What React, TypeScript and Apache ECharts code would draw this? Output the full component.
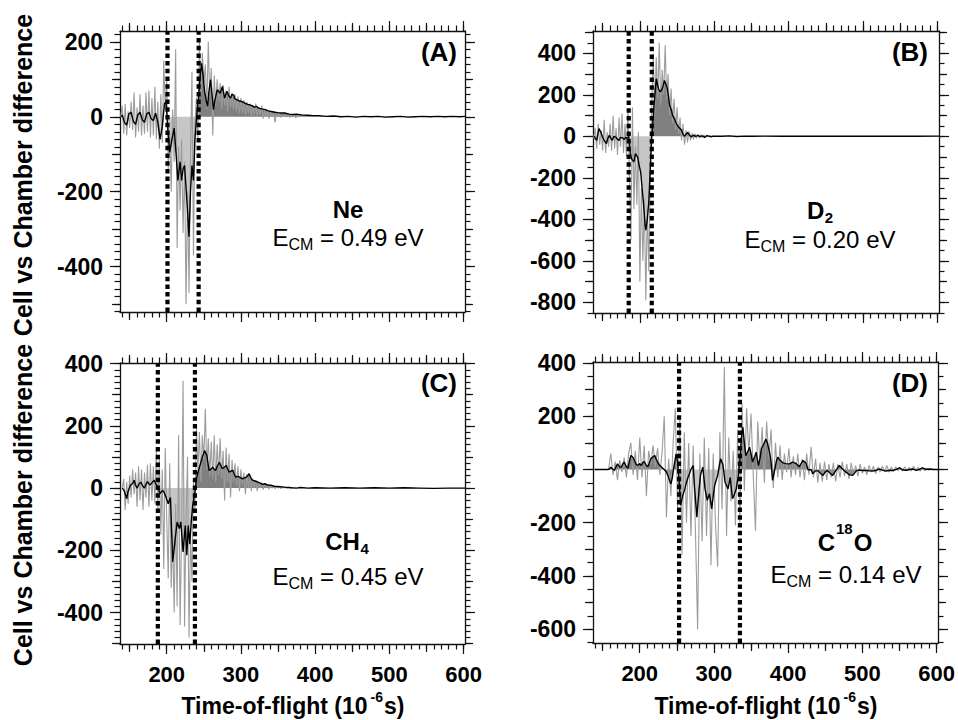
import React, { useEffect, useRef } from 'react';
import * as echarts from 'echarts';

const FONT = '"Liberation Sans", Arial, Helvetica, sans-serif';

// ---------- axes ----------
const X_RANGE = [137, 602];
const X_MAJOR = [200, 300, 400, 500, 600];
const X_MID = [150, 250, 350, 450, 550];
const X_MINOR_STEP = 10;

const Y_RANGE_A = [-521, 229];
const Y_RANGE_B = [-851, 507];
const Y_RANGE_C = [-501, 402];
const Y_RANGE_D = [-652, 404];
const Y_MAJOR_A = [-400, -200, 0, 200];
const Y_MAJOR_B = [-800, -600, -400, -200, 0, 200, 400];
const Y_MAJOR_C = [-400, -200, 0, 200, 400];
const Y_MAJOR_D = [-600, -400, -200, 0, 200, 400];
const Y_MINOR_STEP_A = 20;
const Y_MINOR_STEP_B = 50;
const Y_MINOR_STEP_C = 20;
const Y_MINOR_STEP_D = 50;

// ---------- dotted markers ----------
const DOTTED_A = [201, 243];
const DOTTED_B = [185, 216];
const DOTTED_C = [188, 238];
const DOTTED_D = [253, 335];

// ---------- smoothed traces ----------
const SMOOTH_A: number[][] = [
  [139, 0], [140, 5], [143, -15], [146, -22], [149, 8], [152, 12], [155, -12], [158, -20], [161, 5], [164, 12],
  [167, -8], [170, -15], [173, 8], [176, 12], [179, -5], [182, -10], [185, 10], [188, -15], [191, -60], [194, -25],
  [197, 35], [199, 40], [201, -20], [204, -95], [207, -60], [210, -30], [213, -110], [215, -170], [218, -120], [220, -170],
  [222, -140], [224, -130], [226, -190], [228, -250], [230, -320], [232, -200], [234, -130], [236, -170], [238, -60], [240, -5],
  [243, 55], [245, 110], [247, 143], [249, 110], [251, 68], [253, 45], [255, 28], [257, 70], [259, 99], [261, 60],
  [263, 19], [265, 45], [268, 72], [270, 68], [272, 63], [275, 81], [278, 50], [281, 68], [284, 55], [286, 50],
  [288, 60], [290, 58], [292, 48], [295, 45], [298, 42], [301, 41], [304, 38], [306, 36], [309, 33], [312, 32],
  [315, 30], [318, 26], [321, 28], [324, 23], [328, 21], [333, 19], [337, 16], [341, 14], [346, 12], [350, 11],
  [355, 10], [360, 10], [365, 7], [370, 6], [375, 7], [382, 5], [390, 4], [397, 3], [405, 3], [415, 1],
  [425, 2], [435, 0], [445, 1], [455, -1], [465, 1], [475, 0], [485, 1], [495, -1], [505, 0], [515, 1],
  [525, -1], [535, 0], [545, 1], [555, 0], [565, 1], [575, 0], [585, 1], [595, 0], [602, 1],
];
const SMOOTH_B: number[][] = [
  [139, 0], [140, -11], [142, -19], [145, 37], [148, 15], [150, -3], [152, -20], [155, -35], [157, -10], [159, 5],
  [161, -10], [163, -19], [165, 0], [168, -5], [170, -15], [172, -20], [174, -5], [177, -8], [179, -15], [181, -5],
  [183, -10], [185, 0], [187, -80], [189, -110], [192, -123], [194, -83], [197, -100], [199, -140], [201, -171], [203, -250],
  [205, -330], [207, -428], [208, -452], [210, -400], [212, -316], [214, -155], [216, 0], [219, 149], [222, 277], [225, 229],
  [227, 215], [229, 221], [231, 240], [233, 269], [235, 250], [237, 229], [240, 149], [242, 130], [244, 101], [247, 80],
  [249, 61], [252, 45], [256, 29], [258, 10], [260, 0], [262, 10], [264, 18], [267, 5], [269, -3], [272, 5],
  [275, 0], [278, 4], [281, -2], [284, 2], [287, -5], [290, 3], [295, -2], [300, 1], [310, 0], [320, 2],
  [330, -1], [340, 1], [350, 0], [370, 1], [390, 0], [420, 1], [450, 0], [480, 1], [510, 0], [540, 1],
  [570, 0], [602, 1],
];
const SMOOTH_C: number[][] = [
  [140, 0], [143, -10], [146, -34], [148, -10], [151, 9], [154, 15], [156, 25], [158, 10], [160, 0], [163, 15],
  [165, 19], [168, 5], [170, 0], [172, 12], [174, 21], [177, 10], [179, 14], [181, 20], [183, 25], [185, 15],
  [188, 3], [191, -18], [194, -8], [196, -12], [199, -29], [202, -50], [205, -30], [208, -237], [211, -173], [214, -109],
  [217, -130], [219, -109], [222, -205], [225, -120], [227, -216], [229, -120], [231, -180], [233, -110], [235, -56], [238, -13],
  [240, 30], [242, 51], [246, 83], [248, 100], [251, 121], [254, 105], [257, 57], [260, 62], [262, 67], [264, 60],
  [266, 57], [268, 70], [271, 83], [273, 72], [275, 62], [278, 68], [280, 73], [282, 62], [284, 51], [287, 55],
  [289, 57], [291, 45], [293, 35], [296, 38], [298, 35], [302, 30], [305, 33], [307, 35], [309, 40], [311, 46],
  [314, 30], [316, 25], [320, 22], [323, 19], [326, 16], [329, 12], [332, 14], [336, 10], [341, 9], [345, 6],
  [350, 5], [355, 4], [359, 3], [364, 2], [368, 1], [375, 0], [380, 2], [390, 0], [400, 1], [420, 0],
  [440, 1], [460, 0], [480, 1], [500, 0], [520, 1], [540, 0], [560, -1], [580, 0], [602, 0],
];
const SMOOTH_D: number[][] = [
  [139, 0], [157, 0], [159, 2], [161, 9], [164, 0], [166, -3], [168, 10], [170, 21], [173, 10], [175, 8],
  [177, 20], [179, 28], [182, 10], [184, 5], [186, 30], [188, 53], [191, 45], [193, 34], [195, 20], [197, 15],
  [200, 22], [202, 15], [204, 25], [206, 30], [209, 15], [211, 10], [213, 25], [215, 40], [218, 48], [220, 53],
  [222, 40], [224, 28], [227, 15], [229, 10], [231, 5], [233, 0], [236, -10], [238, -23], [240, -40], [242, -54],
  [244, -30], [246, 10], [249, 59], [251, 30], [253, -40], [255, -135], [258, -98], [261, -70], [263, -48], [265, -30],
  [267, -16], [269, 0], [272, 15], [274, -73], [277, -179], [280, -73], [282, -20], [285, 9], [288, -73], [291, -116],
  [294, -91], [297, -148], [299, -100], [301, -60], [303, -40], [305, -23], [307, 10], [309, 40], [312, 20], [315, -48],
  [317, -60], [319, -73], [322, -30], [325, -110], [328, -90], [330, -73], [333, -23], [335, 40], [337, 120], [339, 159],
  [341, 100], [343, 52], [346, 70], [348, 84], [350, 60], [352, 28], [355, 50], [357, 65], [360, 15], [362, 40],
  [364, 78], [367, 95], [370, 115], [372, 100], [375, 65], [377, 30], [379, -41], [382, 0], [384, 30], [386, 46],
  [389, 35], [393, 25], [397, 22], [402, 21], [406, 28], [411, 22], [415, 10], [420, 34], [424, 25], [427, -2],
  [431, 0], [433, -16], [437, -5], [440, -5], [444, -15], [447, -22], [450, -10], [453, -4], [457, -15], [460, -22],
  [464, -5], [469, 15], [474, 0], [478, -10], [483, -20], [487, -22], [492, -5], [496, -2], [501, -4], [505, -4],
  [510, -5], [514, -6], [519, -3], [523, 2], [528, -3], [532, -6], [537, -3], [541, -4], [546, 1], [550, 6],
  [555, -2], [559, -3], [564, 0], [568, 2], [573, -3], [577, 1], [581, 6], [586, 0], [590, 2], [595, 0], [602, 0],
];

// ---------- raw (unsmoothed) traces ----------
const RAW_A_START = 138;
const RAW_A_STEP = 2;
const RAW_A = [
  0, 30, -45, 35, -50, 15, -30, 40, -35, 65, -55, 25, -40, 60, -50, 30, -45, 65, -40, 70,
  -55, 50, -50, 80, -60, 40, -85, 60, -70, 150, 20, 100,
  -140, -40, -200, 20, -120, 180, -350, -80, -250, -60, -310, -120, -500, -200, -470, -100, 120, -370, -20, 50, -60,
  200, 60, 170, 90, 140, 20, 200, 50, 130, -50, 110, 30, 100, 40, 90, 20, 85, 30, 70, 15,
  80, 25, 65, 20, 60, 15, 55, 10, 50,
  10, 45, 5, 40, 10, 35, 0, 30, 5, 35, 0, 25, 5, 30, -5, 20, 0, 15, -5, 15,
  0, 10, -15, 10, 0, 8, -2, 6, 0, 5,
  0, 4, -2, 5, 0, 4, -3, 3, 0, 3,
];
const RAW_B_START = 138;
const RAW_B_STEP = 2;
const RAW_B = [
  -10, 40, -60, 60, -40, 30, -70, 80, -80, 20, -50, 60, -70, 100, -60, 40, -90, 90, -50, 110,
  -80, 60, -100, 130,
  -200, -500, 140, -350, -50, -330, 20, -700, -250, -600, -300, -790, -350, -650, -150,
  150, 400, 120, 380, 180, 450, 150, 320, 200, 440, 180, 300, 100, 230, 60, 180, 30, 140, 10, 90,
  -20, 60, -40, 30, -30, 25, -20, 15, -15, 12, -10, 10, -8, 8, -5, 6, -4, 5, -3, 4, -2, 3, 0,
];
const RAW_C_START = 140;
const RAW_C_STEP = 2;
const RAW_C = [
  0, 30, -70, 20, -50, 40, -30, 60, -20, 50, -60, 70, -40, 60, -70, 50, -30, 75, -60, 80,
  -40, 70, -50, 125, -70,
  100, -150, 60, -260, 130, -100, -290, 80, -320, -150, -400, -50, -380, 170, -440, -150, 345, -445, -100, 100,
  -480, -150, -300, 20,
  -80, 200, 60, 180, 20, 170, 90, 255, 60, 160, 40, 150, 30, 170, 20, 140, 40, 160, 30, 120,
  -40, 130, 20, 110, -30, 90, 20, 80, 10, 70, -10, 60, 10, 50, -20, 45, 0, 40, -10, 30,
  0, 25, -10, 20, 0, 18, -5, 15, 0, 12, -4, 10, 0, 8, -2, 6, 0, 5, -2, 4, 0, 3, -1, 3, 0, 2, 0,
];
const RAW_D_START = 158;
const RAW_D_STEP = 3;
const RAW_D = [
  0, 60, -20, 30, -40, 35, -10, 45, -30, 60, 100, -20, 70, -40, 120, -30, 90, -100, 70, 20,
  90, 10, 80, -20, 60, 200, -180, 40, -100, 100, 230, -150, 200,
  -320, 140, -200, 100, -250, 90, -220, -600, 60, -270, 120, -250, 80, -360, 60, -200, -365, 140, -150, 385,
  -250, 120, -120, 70, -210, 150,
  -200, 250, -80, 230, 60, 210, -20, -230, 180, 20, 160, -50, 180, 40, 150, -70, 100, -30, 90, -40,
  60, -10, 80, -30, 50, -20, 60, -30, 40, -40, 60, -20, 85, -30, 40, -50, 25, -45, 30, -40,
  20, -30, 25, -45, 20, -30, 30, -25, 20, -35, 25, -20, 15, -25, 20, -15, 10, -20, 15, -10,
  12, -15, 10, -10, 12, -8, 15, -10, 10, -8, 10, -5, 8, -6, 10, -5, 8, -6, 12, -4,
  8, -6, 6, -4, 5, -3, 4, 0,
];

const PANELS = [
  { grid: { left: 120, top: 31, width: 345, height: 281 }, yRange: Y_RANGE_A, yMajor: Y_MAJOR_A, yMinorStep: Y_MINOR_STEP_A,
    dotted: DOTTED_A, smooth: SMOOTH_A, raw: RAW_A, rawStart: RAW_A_START, rawStep: RAW_A_STEP, preFill: false, xLabels: false },
  { grid: { left: 593, top: 31, width: 346, height: 282 }, yRange: Y_RANGE_B, yMajor: Y_MAJOR_B, yMinorStep: Y_MINOR_STEP_B,
    dotted: DOTTED_B, smooth: SMOOTH_B, raw: RAW_B, rawStart: RAW_B_START, rawStep: RAW_B_STEP, preFill: false, xLabels: false },
  { grid: { left: 120, top: 363, width: 345, height: 281 }, yRange: Y_RANGE_C, yMajor: Y_MAJOR_C, yMinorStep: Y_MINOR_STEP_C,
    dotted: DOTTED_C, smooth: SMOOTH_C, raw: RAW_C, rawStart: RAW_C_START, rawStep: RAW_C_STEP, preFill: false, xLabels: true },
  { grid: { left: 593, top: 362, width: 345, height: 281 }, yRange: Y_RANGE_D, yMajor: Y_MAJOR_D, yMinorStep: Y_MINOR_STEP_D,
    dotted: DOTTED_D, smooth: SMOOTH_D, raw: RAW_D, rawStart: RAW_D_START, rawStep: RAW_D_STEP, preFill: true, xLabels: true },
];

const LIGHT_FILL = '#c6c6c6';
const DARK_FILL = '#808080';
const RAW_COLOR = '#9c9c9c';

function ticksBetween(lo: number, hi: number, step: number): number[] {
  const out: number[] = [];
  const start = Math.ceil(lo / step) * step;
  for (let v = start; v <= hi; v += step) out.push(v);
  return out;
}

function oddHundreds(lo: number, hi: number): number[] {
  return ticksBetween(lo, hi, 100).filter((v) => Math.abs(v) % 200 === 100);
}

const ctx2d = typeof document !== 'undefined' ? document.createElement('canvas').getContext('2d') : null;
function textWidth(text: string, font: string): number {
  if (!ctx2d) return text.length * 12;
  ctx2d.font = font;
  return ctx2d.measureText(text).width;
}

type Part = { t: string; f: string; dy?: number; gapL?: number; gapR?: number };
function textRun(parts: Part[], cx: number, cy: number, align: 'center' | 'right' | 'left' = 'center') {
  const widths = parts.map((p) => textWidth(p.t, p.f) + (p.gapL || 0) + (p.gapR || 0));
  const total = widths.reduce((a, b) => a + b, 0);
  let x = align === 'center' ? cx - total / 2 : align === 'right' ? cx - total : cx;
  return parts.map((p, i) => {
    const el = {
      type: 'text',
      x: x + (p.gapL || 0),
      y: cy + (p.dy || 0),
      silent: true,
      style: {
        text: p.t,
        font: p.f,
        fill: '#000',
        textAlign: 'left',
        align: 'left',
        textVerticalAlign: 'middle',
        verticalAlign: 'middle',
      },
    };
    x += widths[i];
    return el;
  });
}

const B23 = `bold 23px ${FONT}`;
const B24 = `bold 24px ${FONT}`;
const B26 = `bold 26px ${FONT}`;
const B15 = `bold 15px ${FONT}`;
const B14 = `bold 14px ${FONT}`;
const R24 = `24px ${FONT}`;
const R16 = `16px ${FONT}`;

export default function App() {
  const ref = useRef<HTMLDivElement>(null);

  useEffect(() => {
    if (!ref.current) return;
    const chart = echarts.init(ref.current, undefined, { renderer: 'svg' });

    const grids: any[] = [];
    const xAxes: any[] = [];
    const yAxes: any[] = [];
    const series: any[] = [];

    const tickAxisBase = {
      type: 'value',
      splitLine: { show: false },
      axisLine: { show: false },
      axisLabel: { show: false },
    };

    PANELS.forEach((p, pi) => {
      grids.push({ ...p.grid });
      const [ymin, ymax] = p.yRange;
      const xMinor = ticksBetween(X_RANGE[0], X_RANGE[1], X_MINOR_STEP);
      const yMinor = ticksBetween(ymin, ymax, p.yMinorStep);
      const yMid = oddHundreds(ymin, ymax);

      const xLevels = [
        { vals: X_MAJOR, len: 10, main: true },
        { vals: X_MID, len: 8, main: false },
        { vals: xMinor, len: 5.5, main: false },
      ];
      const yLevels = [
        { vals: p.yMajor, len: 10, main: true },
        { vals: yMid, len: 8, main: false },
        { vals: yMinor, len: 5.5, main: false },
      ];

      const xBase = xAxes.length;
      ['bottom', 'top'].forEach((pos) => {
        xLevels.forEach((lv) => {
          xAxes.push({
            ...tickAxisBase,
            gridIndex: pi,
            position: pos,
            min: X_RANGE[0],
            max: X_RANGE[1],
            axisLine: { show: lv.main, onZero: false, lineStyle: { color: '#111', width: 1.3 } },
            axisTick: { show: true, inside: false, length: lv.len, customValues: lv.vals, lineStyle: { color: '#111', width: 1.2 } },
            axisLabel: lv.main && pos === 'bottom' && p.xLabels
              ? { show: true, customValues: X_MAJOR, margin: 19, color: '#000', fontFamily: FONT, fontWeight: 'bold', fontSize: 22 }
              : { show: false },
          });
        });
      });

      const yBase = yAxes.length;
      ['left', 'right'].forEach((pos) => {
        yLevels.forEach((lv) => {
          yAxes.push({
            ...tickAxisBase,
            gridIndex: pi,
            position: pos,
            min: ymin,
            max: ymax,
            axisLine: { show: lv.main, onZero: false, lineStyle: { color: '#111', width: 1.3 } },
            axisTick: { show: true, inside: false, length: lv.len, customValues: lv.vals, lineStyle: { color: '#111', width: 1.2 } },
            axisLabel: lv.main && pos === 'left'
              ? { show: true, customValues: p.yMajor, margin: 17, color: '#000', fontFamily: FONT, fontWeight: 'bold', fontSize: 23 }
              : { show: false },
          });
        });
      });

      const axisRef = { xAxisIndex: xBase, yAxisIndex: yBase };
      const [d1, d2] = p.dotted;
      const pre = p.smooth.filter((q) => q[0] <= d1);
      const mid = p.smooth.filter((q) => q[0] >= d1 && q[0] <= d2);
      const post = p.smooth.filter((q) => q[0] >= d2);
      const fillSeries = (data: number[][], color: string) => ({
        type: 'line',
        ...axisRef,
        data,
        symbol: 'none',
        silent: true,
        lineStyle: { width: 0, opacity: 0 },
        areaStyle: { color, opacity: 1 },
        z: 1,
      });
      if (p.preFill) series.push(fillSeries(pre, DARK_FILL));
      series.push(fillSeries(mid, LIGHT_FILL));
      series.push(fillSeries(post, DARK_FILL));

      series.push({
        type: 'line',
        ...axisRef,
        data: p.raw.map((v, i) => [p.rawStart + i * p.rawStep, v]),
        symbol: 'none',
        silent: true,
        lineStyle: { color: RAW_COLOR, width: 1.1 },
        z: 2,
      });
      series.push({
        type: 'line',
        ...axisRef,
        data: p.smooth,
        symbol: 'none',
        silent: true,
        lineStyle: { color: '#000', width: 1.4 },
        z: 3,
      });
      p.dotted.forEach((d) => {
        series.push({
          type: 'line',
          ...axisRef,
          data: [[d, ymin], [d, ymax]],
          symbol: 'none',
          silent: true,
          lineStyle: { color: '#000', width: 4.2, type: [4.5, 3.2], cap: 'butt' },
          z: 4,
        });
      });
    });

    const graphics: any[] = [];
    // y-axis titles
    [175, 505].forEach((cy) => {
      graphics.push({
        type: 'text',
        x: 23,
        y: cy,
        rotation: Math.PI / 2,
        silent: true,
        style: {
          text: 'Cell vs Chamber difference',
          font: `bold 25px ${FONT}`,
          fill: '#000',
          textAlign: 'center',
          align: 'center',
          textVerticalAlign: 'middle',
          verticalAlign: 'middle',
        },
      });
    });
    // x-axis titles
    [293, 766].forEach((cx) => {
      graphics.push(...textRun([
        { t: 'Time-of-flight (10', f: B23 },
        { t: '-6', f: B14, dy: -9, gapL: 3, gapR: 1 },
        { t: 's)', f: B23 },
      ], cx, 706));
    });
    // panel letters
    graphics.push(...textRun([{ t: '(A)', f: B26 }], 457, 52, 'right'));
    graphics.push(...textRun([{ t: '(B)', f: B26 }], 928, 52, 'right'));
    graphics.push(...textRun([{ t: '(C)', f: B26 }], 457, 383, 'right'));
    graphics.push(...textRun([{ t: '(D)', f: B26 }], 928, 383, 'right'));
    // species
    graphics.push(...textRun([{ t: 'Ne', f: B24 }], 348, 209));
    graphics.push(...textRun([{ t: 'D', f: B24 }, { t: '2', f: B15, dy: 7, gapL: 0.5 }], 820, 210));
    graphics.push(...textRun([{ t: 'CH', f: B24 }, { t: '4', f: B15, dy: 7, gapL: 0.5 }], 347, 541));
    graphics.push(...textRun([{ t: 'C', f: B24 }, { t: '18', f: B15, dy: -14, gapL: 1, gapR: 1 }, { t: 'O', f: B24 }], 845, 542));
    // collision energies
    const ecm = (val: string, cx: number, cy: number) =>
      textRun([
        { t: 'E', f: R24 },
        { t: 'CM', f: R16, dy: 7 },
        { t: ` = ${val} eV`, f: R24 },
      ], cx, cy);
    graphics.push(...ecm('0.49', 348, 237));
    graphics.push(...ecm('0.20', 820, 239));
    graphics.push(...ecm('0.45', 348, 576));
    graphics.push(...ecm('0.14', 846, 574));

    chart.setOption({
      animation: false,
      backgroundColor: '#ffffff',
      grid: grids,
      xAxis: xAxes,
      yAxis: yAxes,
      series,
      graphic: { elements: graphics },
    });

    return () => chart.dispose();
  }, []);

  return (
    <div
      ref={ref}
      style={{ position: 'fixed', left: 0, top: 0, width: 958, height: 720, background: '#fff' }}
    />
  );
}
